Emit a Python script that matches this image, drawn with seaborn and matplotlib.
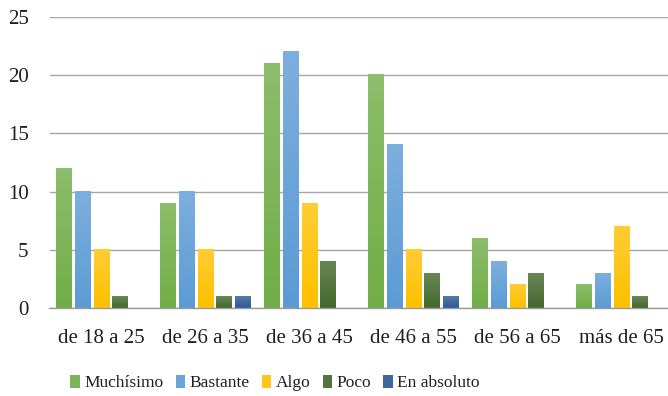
import numpy as np
import pandas as pd
import matplotlib
matplotlib.use("Agg")
import matplotlib.pyplot as plt
import matplotlib.colors as mcolors
from matplotlib.patches import Patch
import seaborn as sns

# Age groups and responses per group
age_groups = ["de 18 a 25", "de 26 a 35", "de 36 a 45", "de 46 a 55", "de 56 a 65", "más de 65"]
levels = ["Muchísimo", "Bastante", "Algo", "Poco", "En absoluto"]
muchisimo = [12, 9, 21, 20, 6, 2]
bastante = [10, 10, 22, 14, 4, 3]
algo = [5, 5, 9, 5, 2, 7]
poco = [1, 1, 4, 3, 3, 1]
en_absoluto = [0, 1, 0, 1, 0, 0]
y_ticks = [0, 5, 10, 15, 20, 25]

series = [muchisimo, bastante, algo, poco, en_absoluto]
df = pd.DataFrame({
    "grupo": np.repeat([age_groups], len(levels), axis=0).ravel(),
    "nivel": np.repeat(levels, len(age_groups)),
    "valor": np.concatenate(series),
})

base_colors = ["#70AD47", "#5B9BD5", "#FFC000", "#43682B", "#2C5894"]
palette = dict(zip(levels, base_colors))

sns.set_theme(style="white")
plt.rcParams["font.family"] = ["Liberation Serif", "DejaVu Serif"]

fig = plt.figure(figsize=(6.68, 3.96), dpi=100)
ax = fig.add_axes([49.5 / 668, 1 - 308.3 / 396, 624 / 668, 291.6 / 396])

sns.barplot(data=df, x="grupo", y="valor", hue="nivel", hue_order=levels,
            order=age_groups, palette=palette, width=0.9, gap=0.15,
            saturation=1, errorbar=None, ax=ax, legend=False, zorder=3)


def lighten(c, amt):
    rgb = np.array(mcolors.to_rgb(c))
    return rgb + (1 - rgb) * amt


# Vertical gradient on each bar: lighter at the top, base colour at the bottom
for p in list(ax.patches):
    h = p.get_height()
    if h <= 0:
        continue
    base = np.array(p.get_facecolor()[:3])
    top = lighten(base, 0.2)
    t = np.linspace(0, 1, 64)[:, None]
    grad = (top[None, :] * (1 - t) + base[None, :] * t)[:, None, :]
    x0, y0, w = p.get_x(), p.get_y(), p.get_width()
    ax.imshow(grad, extent=[x0, x0 + w, y0, y0 + h], origin="upper",
              aspect="auto", zorder=3, interpolation="bilinear")
    p.set_facecolor("none")
    p.set_edgecolor("none")

ax.set_xlim(-0.5, len(age_groups) - 0.5)
ax.set_ylim(0, 25)
ax.set_yticks(y_ticks)
ax.set_yticklabels([str(v) for v in y_ticks])
ax.set_xlabel("")
ax.set_ylabel("")

ax.grid(axis="y", color="#A6A6A6", linewidth=1.0, zorder=0)
ax.grid(axis="x", visible=False)
for s in ["top", "right", "left"]:
    ax.spines[s].set_visible(False)
ax.spines["bottom"].set_color("#9A9A9A")
ax.spines["bottom"].set_linewidth(1.0)
ax.spines["bottom"].set_zorder(4)

ax.tick_params(axis="y", length=0, pad=15, labelsize=15, labelcolor="#1F1F1F")
ax.tick_params(axis="x", length=0, pad=15, labelsize=15, labelcolor="#1F1F1F")

handles = [Patch(facecolor=lighten(c, 0.09), edgecolor="none") for c in base_colors]
fig.legend(handles, levels, loc="center", bbox_to_anchor=(275 / 668, 1 - 383 / 396),
           ncol=5, frameon=False, fontsize=12.5, handlelength=0.55, handleheight=0.75,
           handletextpad=0.25, columnspacing=0.7, labelcolor="#1F1F1F")

fig.savefig("out.png", dpi=100)
